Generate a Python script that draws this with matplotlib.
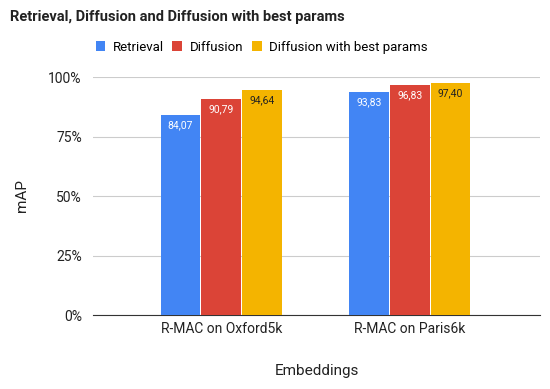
import numpy as np
import matplotlib.pyplot as plt
from matplotlib.ticker import FuncFormatter

plt.rcParams['font.family'] = ['Roboto', 'DejaVu Sans']

groups = ['R-MAC on Oxford5k', 'R-MAC on Paris6k']
series = ['Retrieval', 'Diffusion', 'Diffusion with best params']
retrieval = [84.07, 93.83]
diffusion = [90.79, 96.83]
diffusion_best = [94.64, 97.40]
colors = ['#4285F4', '#DB4437', '#F4B400']
label_colors = ['white', 'white', '#222222']

fig = plt.figure(figsize=(5.5, 3.89), dpi=100)
ax = fig.add_axes([0.169, 0.19, 0.813, 0.612])

x = np.arange(len(groups))
w = 0.21
step = 0.216
for i, (name, vals) in enumerate(zip(series, [retrieval, diffusion, diffusion_best])):
    pos = x + (i - 1) * step
    ax.bar(pos, vals, width=w, color=colors[i], label=name, zorder=3)
    for p, v in zip(pos, vals):
        ax.text(p, v - 2.2, f'{v:.2f}'.replace('.', ','), ha='center', va='top',
                fontsize=7.5, color=label_colors[i], zorder=4)

ax.set_xlim(-0.68, 1.69)
ax.set_ylim(0, 100)
ax.set_yticks([0, 25, 50, 75, 100])
ax.yaxis.set_major_formatter(FuncFormatter(lambda v, _: f'{int(v)}%'))
ax.grid(axis='y', color='#cccccc', linewidth=0.8, zorder=0)
ax.set_xticks(x)
ax.set_xticklabels(groups)
for s in ['top', 'right', 'left']:
    ax.spines[s].set_visible(False)
ax.spines['bottom'].set_color('#333333')
ax.tick_params(axis='both', length=0, labelsize=10, colors='#222222', pad=8)
ax.tick_params(axis='x', pad=5)

ax.set_xlabel('Embeddings', fontsize=11, color='#222222', labelpad=20)
ax.set_ylabel('mAP', fontsize=11, color='#222222', labelpad=14)

fig.text(0.018, 0.957, 'Retrieval, Diffusion and Diffusion with best params',
         fontsize=10.5, fontweight='bold', color='#222222', va='center')
ax.legend(loc='center', bbox_to_anchor=(0.377, 1.125), ncol=3, frameon=False,
          fontsize=9.5, handlelength=0.75, handleheight=0.75, handletextpad=0.55,
          columnspacing=0.65)

fig.savefig('out.png', dpi=100)
